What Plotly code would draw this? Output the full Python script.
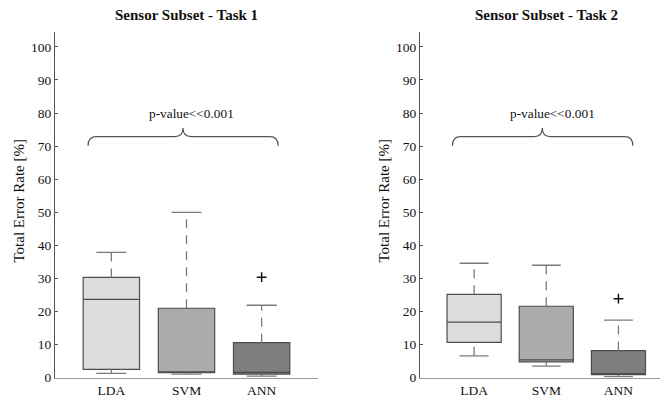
import plotly.graph_objects as go

# ---------------- data ----------------
categories = ["LDA", "SVM", "ANN"]
positions = [1, 2, 3]

task1_lower = [1.3, 1.1, 0.5]
task1_q1 = [2.5, 1.5, 1.1]
task1_median = [23.7, 1.8, 1.6]
task1_q3 = [30.3, 21.0, 10.6]
task1_upper = [37.9, 50.0, 21.9]
task1_outlier_pos = [3]
task1_outlier_val = [30.4]

task2_lower = [6.6, 3.5, 0.3]
task2_q1 = [10.7, 4.8, 0.9]
task2_median = [16.8, 5.4, 1.1]
task2_q3 = [25.2, 21.6, 8.2]
task2_upper = [34.6, 34.0, 17.4]
task2_outlier_pos = [3]
task2_outlier_val = [23.9]

titles = ["Sensor Subset - Task 1", "Sensor Subset - Task 2"]
pvalue_text = "p-value<<0.001"
y_ticks = [0, 10, 20, 30, 40, 50, 60, 70, 80, 90, 100]

# ---------------- style ----------------
fills = ["#dddddd", "#ababab", "#7e7e7e"]
edge = "#4d4d4d"
whisk = "#7a7a7a"
FONT = "Liberation Serif"
TXT = "#111111"
W, H = 660, 397
box_w = 0.75
cap_half = 0.2

fig = go.Figure()

panels = [
    dict(lower=task1_lower, q1=task1_q1, med=task1_median, q3=task1_q3, upper=task1_upper,
         op=task1_outlier_pos, ov=task1_outlier_val, xa="x", ya="y"),
    dict(lower=task2_lower, q1=task2_q1, med=task2_median, q3=task2_q3, upper=task2_upper,
         op=task2_outlier_pos, ov=task2_outlier_val, xa="x2", ya="y2"),
]

for p in panels:
    # whiskers (dashed) and caps (solid)
    wx, wy, cx, cy = [], [], [], []
    for i, pos in enumerate(positions):
        wx += [pos, pos, None, pos, pos, None]
        wy += [p["q3"][i], p["upper"][i], None, p["lower"][i], p["q1"][i], None]
        cx += [pos - cap_half, pos + cap_half, None, pos - cap_half, pos + cap_half, None]
        cy += [p["upper"][i], p["upper"][i], None, p["lower"][i], p["lower"][i], None]
    fig.add_trace(go.Scatter(x=wx, y=wy, mode="lines", xaxis=p["xa"], yaxis=p["ya"],
                             line=dict(color=whisk, width=1.3, dash="9px,7px"),
                             showlegend=False, hoverinfo="skip"))
    fig.add_trace(go.Scatter(x=cx, y=cy, mode="lines", xaxis=p["xa"], yaxis=p["ya"],
                             line=dict(color=whisk, width=1.3),
                             showlegend=False, hoverinfo="skip"))
    for i, pos in enumerate(positions):
        fig.add_trace(go.Box(
            x=[pos], q1=[p["q1"][i]], median=[p["med"][i]], q3=[p["q3"][i]],
            lowerfence=[p["q1"][i]], upperfence=[p["q3"][i]],
            width=box_w, whiskerwidth=0, fillcolor=fills[i],
            line=dict(color=edge, width=1.2), boxpoints=False,
            xaxis=p["xa"], yaxis=p["ya"], showlegend=False, name=categories[i]))
    fig.add_trace(go.Scatter(x=p["op"], y=p["ov"], mode="markers", xaxis=p["xa"], yaxis=p["ya"],
                             marker=dict(symbol="cross-thin", size=7, line=dict(color="#111", width=1.5)),
                             showlegend=False, hoverinfo="skip"))


def brace_path(xa, xb, xm, y_end, y_mid, y_peak, r=0.11):
    return (f"M {xa},{y_end} Q {xa},{y_mid} {xa + r},{y_mid} "
            f"L {xm - r},{y_mid} Q {xm},{y_mid} {xm},{y_peak} "
            f"Q {xm},{y_mid} {xm + r},{y_mid} "
            f"L {xb - r},{y_mid} Q {xb},{y_mid} {xb},{y_end}")

braces = [
    dict(xa=0.69, xb=3.22, xm=1.954, tx=2.07, xref="x", yref="y"),
    dict(xa=0.70, xb=3.20, xm=1.945, tx=2.09, xref="x2", yref="y2"),
]
for b in braces:
    fig.add_shape(type="path", path=brace_path(b["xa"], b["xb"], b["xm"], 70.1, 72.9, 75.5),
                  xref=b["xref"], yref=b["yref"], line=dict(color="#555", width=1.2))
    fig.add_annotation(x=b["tx"], y=79.8, xref=b["xref"], yref=b["yref"], text=pvalue_text,
                       showarrow=False, xanchor="center", yanchor="middle",
                       font=dict(family=FONT, size=13.3, color=TXT))

# titles
for x_px, t in zip([186.7, 546], titles):
    fig.add_annotation(x=x_px / W, y=1 - 15 / H, xref="paper", yref="paper", text=f"<b>{t}</b>",
                       showarrow=False, xanchor="center", yanchor="middle",
                       font=dict(family=FONT, size=15, color="#111"))
# y-axis titles
for x_px in [18.5, 383.5]:
    fig.add_annotation(x=x_px / W, y=1 - 201 / H, xref="paper", yref="paper",
                       text="Total Error Rate [%]", textangle=-90, showarrow=False,
                       xanchor="center", yanchor="middle",
                       font=dict(family=FONT, size=15, color=TXT))

ydom = [19.3 / H, 1 - 31.7 / H]
yax = dict(domain=ydom, range=[0, 104.6], tickvals=y_ticks, showline=True, linecolor="#555",
           linewidth=1, ticks="inside", ticklen=3, tickcolor="#555", showgrid=False, zeroline=False,
           tickfont=dict(family=FONT, size=13.5, color=TXT), automargin=False)
xax = dict(tickvals=positions, ticktext=categories, showline=True, linecolor="#999", linewidth=1.2,
           ticks="", showgrid=False, zeroline=False, automargin=False,
           tickfont=dict(family=FONT, size=13.5, color=TXT))

fig.update_layout(
    template="none",
    width=W, height=H, margin=dict(l=0, r=0, t=0, b=0, pad=0),
    paper_bgcolor="white", plot_bgcolor="white", showlegend=False,
    font=dict(family=FONT, color=TXT),
    xaxis=dict(xax, domain=[55 / W, 318 / W], range=[0.25, 3.75], anchor="y"),
    xaxis2=dict(xax, domain=[420 / W, 1.0], range=[0.25, 3.576], anchor="y2"),
    yaxis=dict(yax, anchor="x"),
    yaxis2=dict(yax, anchor="x2"),
)

fig.write_html("out.html", config={"displayModeBar": False},
               post_script="document.body.style.margin='0';document.body.style.padding='0';"
                           "document.body.style.overflow='hidden';")
